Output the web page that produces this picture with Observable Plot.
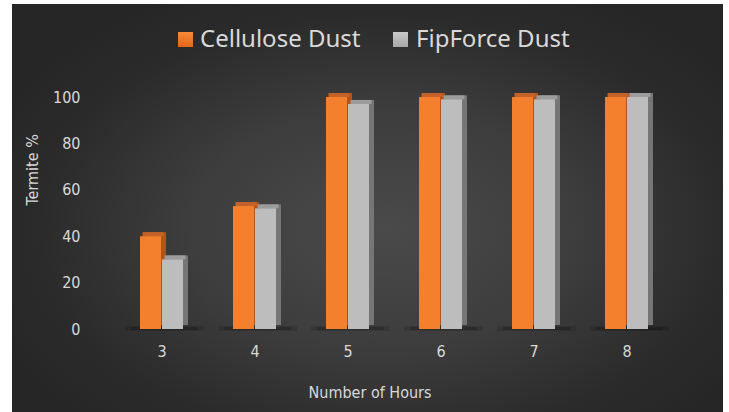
<!DOCTYPE html>
<html>
<head>
<meta charset="utf-8">
<script src="https://cdn.jsdelivr.net/npm/d3@7"></script>
<script src="https://cdn.jsdelivr.net/npm/@observablehq/plot@0.6"></script>
<style>
  html, body { margin: 0; padding: 0; background: #fff; }
  body { width: 729px; height: 412px; position: relative; overflow: hidden; }
  #wrap {
    position: absolute; left: 12px; top: 4px; width: 711px; height: 408px;
    background: radial-gradient(ellipse 60% 65% at 52% 55%, #4a4a4a 0%, #3d3d3d 45%, #2b2b2b 80%, #262626 100%);
  }
  #chart { position: absolute; left: 0; top: 0; }
  .leg { position: absolute; top: 22px; font-family: "Noto Sans", "Open Sans", sans-serif; font-size: 24px; line-height: 24px; color: #d9d9d9; white-space: nowrap; }
  .sw { position: absolute; top: 28px; width: 15px; height: 15px; }
</style>
</head>
<body>
<div id="wrap">
  <div id="chart"></div>
  <div class="sw" style="left:166px;background:linear-gradient(#f58a3a,#e0671c);"></div>
  <div class="leg" style="left:188px;">Cellulose Dust</div>
  <div class="sw" style="left:381px;background:linear-gradient(#c8c8c8,#a8a8a8);"></div>
  <div class="leg" style="left:404px;">FipForce Dust</div>
</div>
<script>
const hours = ["3", "4", "5", "6", "7", "8"];
const cellulose = [40, 53, 100, 100, 100, 100];
const fipforce = [30, 52, 97, 99, 99, 100];
const yTicks = [0, 20, 40, 60, 80, 100];
const xTitle = "Number of Hours";
const yTitle = "Termite %";

const rows = hours.map((h, i) => ({hour: h, cel: cellulose[i], fip: fipforce[i]}));

const C = {
  orange: "#f4802e", orangeTop: "#c4622a", orangeSide: "#b2531c",
  gray: "#bdbdbd", grayTop: "#9c9c9c", graySide: "#767676"
};
// insets place the two series side by side inside each hour band
const celPos = {insetLeft: 25, insetRight: 47};
const fipPos = {insetLeft: 47, insetRight: 25};

const chart = Plot.plot({
  width: 711, height: 408,
  marginTop: 93, marginBottom: 83, marginLeft: 100, marginRight: 48,
  style: {background: "transparent", color: "#d9d9d9", fontFamily: "'Liberation Sans Narrow', 'DejaVu Sans Condensed', sans-serif", fontSize: "16px"},
  x: {domain: hours, padding: 0, label: null, tickSize: 0, tickPadding: 16},
  y: {domain: [0, 100], ticks: yTicks, label: null, tickSize: 0, tickPadding: 32},
  marks: [
    // soft base shadows
    Plot.barY(rows, {x: "hour", y1: 0, y2: 0, insetTop: -3, insetBottom: -2, insetLeft: 10, insetRight: 4, fill: "#000", fillOpacity: 0.12}),
    Plot.barY(rows, {x: "hour", y1: 0, y2: 0, insetTop: -2, insetBottom: -1, insetLeft: 16, insetRight: 10, fill: "#000", fillOpacity: 0.18}),
    // side / back faces
    Plot.barY(rows, {x: "hour", y: "cel", fill: C.orangeSide, ...celPos, dx: 5, dy: -4}),
    Plot.barY(rows, {x: "hour", y: "fip", fill: C.graySide, ...fipPos, dx: 5, dy: -4}),
    // top faces
    Plot.barY(rows, {x: "hour", y1: "cel", y2: "cel", insetTop: -4, fill: C.orangeTop, ...celPos, dx: 2.5}),
    Plot.barY(rows, {x: "hour", y1: "fip", y2: "fip", insetTop: -4, fill: C.grayTop, ...fipPos, dx: 2.5}),
    // front faces
    Plot.barY(rows, {x: "hour", y: "cel", fill: C.orange, ...celPos}),
    Plot.barY(rows, {x: "hour", y: "fip", fill: C.gray, ...fipPos}),
    // axis titles
    Plot.text([yTitle], {frameAnchor: "left", dx: -80, dy: -8, rotate: -90, fill: "#d9d9d9", fontSize: 16}),
    Plot.text([xTitle], {frameAnchor: "bottom", dx: -24, dy: 68, fill: "#d9d9d9", fontSize: 16})
  ]
});
document.getElementById("chart").appendChild(chart);
</script>
</body>
</html>
